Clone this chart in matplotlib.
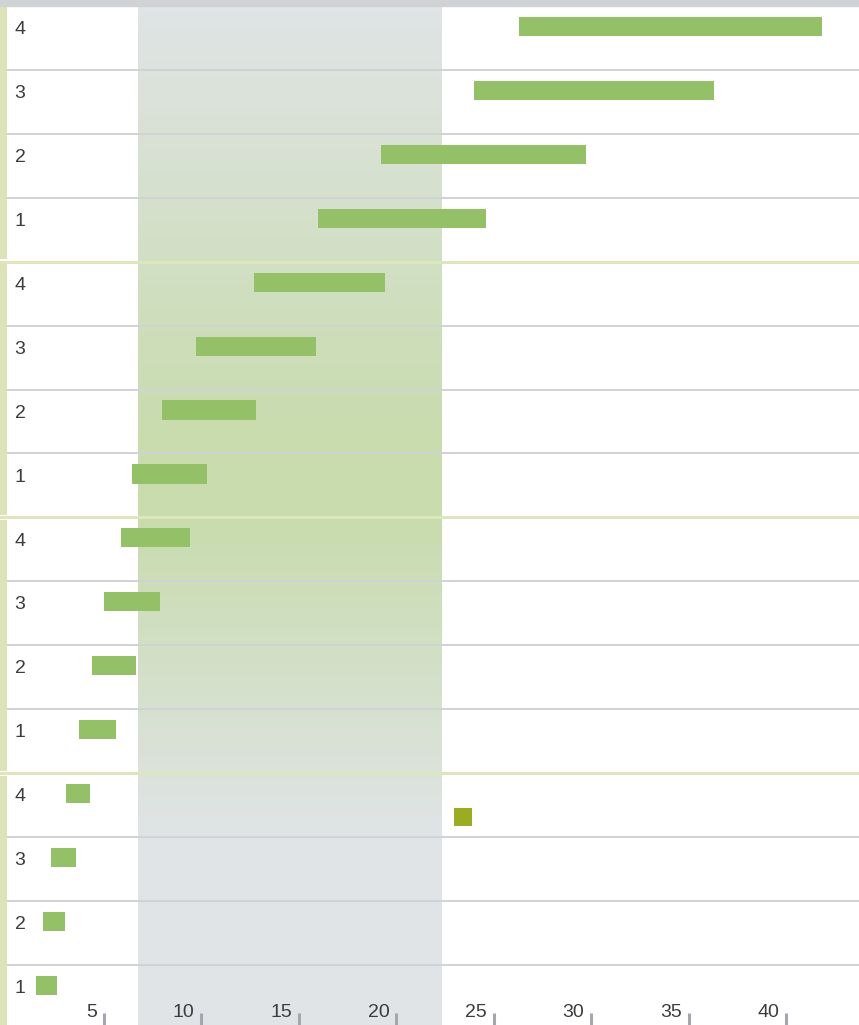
import numpy as np
import matplotlib.pyplot as plt
from matplotlib.colors import LinearSegmentedColormap
from matplotlib.patches import Rectangle
from matplotlib.transforms import offset_copy

plt.rcParams['font.family'] = ['Liberation Sans', 'DejaVu Sans']

# rows from bottom to top, four groups of four
row_labels = ['1', '2', '3', '4'] * 4
starts = [1.5, 1.9, 2.3, 3.05, 3.7, 4.4, 5.0, 5.9,
          6.45, 8.0, 9.7, 12.7, 16.0, 19.2, 24.0, 26.3]
ends = [2.6, 3.0, 3.55, 4.3, 5.6, 6.65, 7.9, 9.4,
        10.3, 12.8, 15.9, 19.4, 24.6, 29.7, 36.3, 41.8]
marker_x = [23.4]
marker_row = [3]
xticks = [5, 10, 15, 20, 25, 30, 35, 40]
band = (6.75, 22.3)

fig = plt.figure(figsize=(8.59, 10.25), dpi=100)
ax = fig.add_axes([0, 0, 1, 1 - 6 / 1025])
fig.patches.append(Rectangle((0, 1 - 6 / 1025), 1, 6 / 1025,
                             transform=fig.transFigure, color='#d0d2d4'))

ax.set_xlim(-0.33, 43.72)
ax.set_ylim(0.06, 16)

# shaded band: grey at ends, green in the middle
cmap = LinearSegmentedColormap.from_list(
    'band', [(0, '#e0e4e6'), (3 / 16, '#e0e4e6'), (8 / 16, '#c8dcad'),
             (9.3 / 16, '#c8dcad'), (1, '#e0e4e6')])
grad = np.linspace(0, 1, 256).reshape(-1, 1)
ax.imshow(grad, extent=[band[0], band[1], 0, 16], origin='lower',
          cmap=cmap, aspect='auto', zorder=0)

# row separators
for r in range(1, 16):
    if r % 4 == 0:
        ax.axhline(r, color='#dee6bc', lw=2.2, zorder=1)
    else:
        ax.axhline(r, color='#cfd3d6', lw=1.4, zorder=1)

# left strip per group
for g in range(4):
    lo = g * 4 + (0 if g == 0 else 0.04)
    hi = g * 4 + 4 - (0.04 if g < 3 else 0)
    ax.add_patch(Rectangle((-0.33, lo), 0.36, hi - lo, color='#dde3b8',
                           lw=0, zorder=2))

ypos = np.arange(16) + 1 - 0.32
ax.barh(ypos, np.array(ends) - np.array(starts), left=starts, height=0.3,
        color='#94c068', zorder=3)
ax.scatter(marker_x, np.array(marker_row) + 0.31, marker='s', s=175,
           color='#9aad22', linewidths=0, zorder=3)

for y, lab in zip(ypos, row_labels):
    ax.text(0.42, y - 0.05, lab, ha='left', va='center', fontsize=14,
            color='#3c3c3c')

ax.set_xticks(xticks)
ax.set_xticklabels([])
ax.set_yticks([])
ax.tick_params(axis='x', direction='in', length=9, width=2.2,
               color='#a4a8ae', pad=0)
lab_tr = offset_copy(ax.transData, fig=fig, x=-7, y=0, units='dots')
for t in xticks:
    ax.text(t, 0.25, str(t), transform=lab_tr, ha='right', va='center',
            fontsize=14, color='#3c3c3c')

for s in ax.spines.values():
    s.set_visible(False)

fig.savefig('out.png', dpi=100)
